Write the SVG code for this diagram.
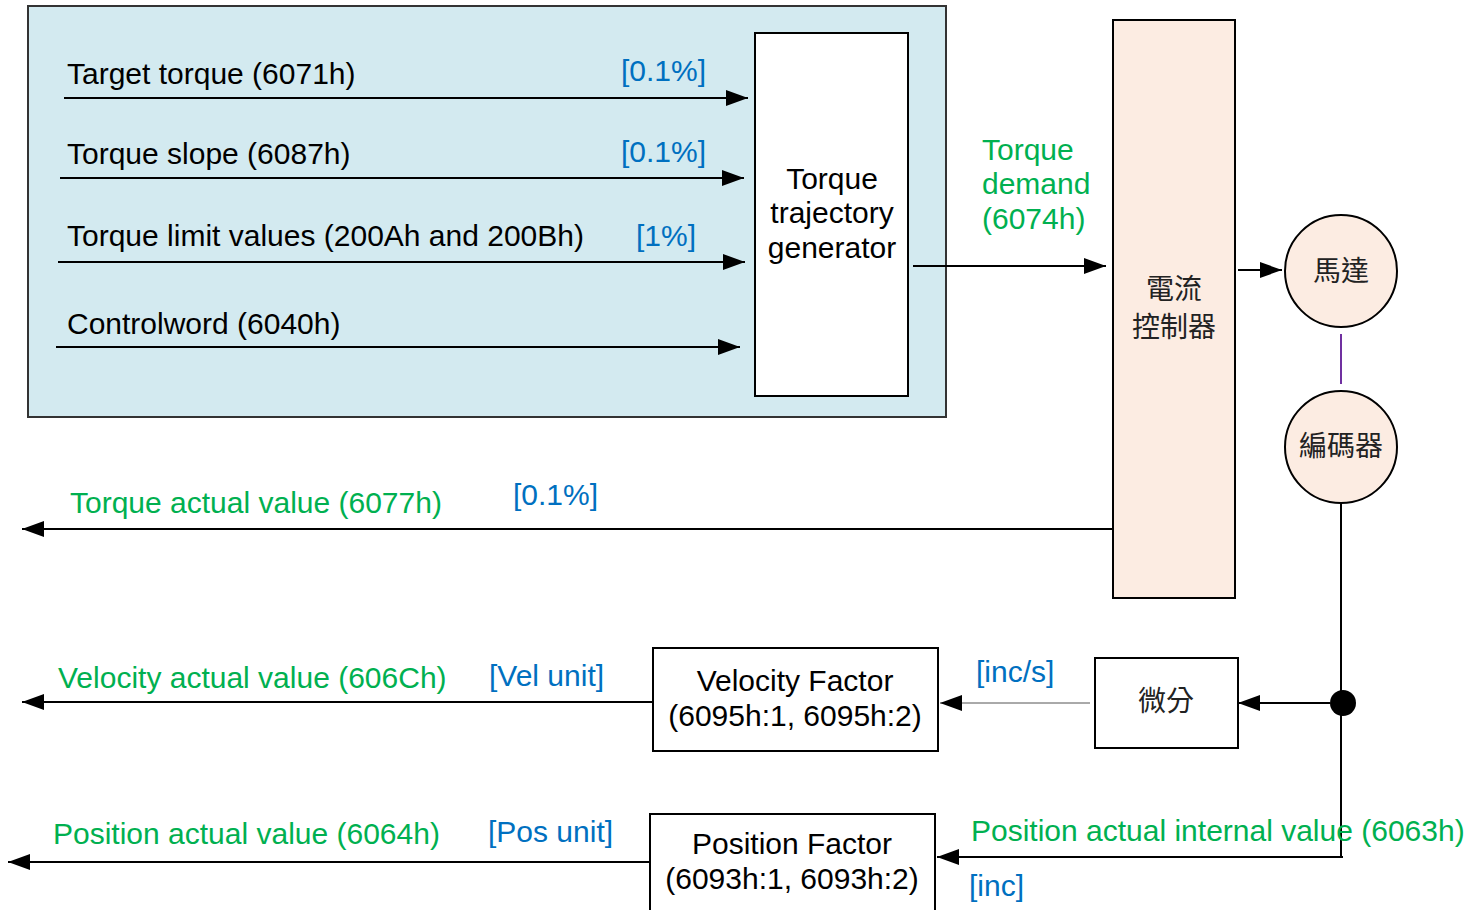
<svg xmlns="http://www.w3.org/2000/svg" width="1470" height="910" viewBox="0 0 1470 910">
<style>
text{font-family:"Liberation Sans",Arial,"Noto Sans CJK TC",sans-serif;font-size:30px}
.k{fill:#000}
.g{fill:#00b050}
.b{fill:#0070c0}
.cjk{font-family:"Noto Sans CJK TC","Noto Sans CJK SC",sans-serif;font-size:28px;fill:#222}
.ln{stroke:#000;stroke-width:2;fill:none}
.box{fill:#fff;stroke:#000;stroke-width:2}
.peach{fill:#fcece2;stroke:#000;stroke-width:2}
.c{text-anchor:middle}
</style>
<defs>
<marker id="ah" markerUnits="userSpaceOnUse" markerWidth="24" markerHeight="18" refX="22" refY="8" orient="auto">
<path d="M0,0 L22,8 L0,16 Z" fill="#000"/>
</marker>
</defs>
<rect width="1470" height="910" fill="#fff"/>
<g id="panel">
<rect x="28" y="6" width="918" height="411" fill="#d3eaf0" stroke="#333" stroke-width="2"/>
</g>
<g id="ttg">
<rect class="box" x="755" y="33" width="153" height="363"/>
<text class="k c" x="832" y="189">Torque</text>
<text class="k c" x="832" y="223">trajectory</text>
<text class="k c" x="832" y="258">generator</text>
</g>
<g id="current">
<rect class="peach" x="1113" y="20" width="122" height="578"/>
<text class="cjk c" x="1174" y="299">電流</text>
<text class="cjk c" x="1174" y="337">控制器</text>
</g>
<g id="motor">
<circle class="peach" cx="1341" cy="271" r="56"/>
<text class="cjk c" x="1341" y="281">馬達</text>
</g>
<g id="encoder">
<circle class="peach" cx="1341" cy="447" r="56"/>
<text class="cjk c" x="1341" y="456">編碼器</text>
</g>
<g id="diff">
<rect class="box" x="1095" y="658" width="143" height="90"/>
<text class="cjk c" x="1166" y="711">微分</text>
</g>
<g id="velfactor">
<rect class="box" x="653" y="648" width="285" height="103"/>
<text class="k c" x="795" y="691">Velocity Factor</text>
<text class="k c" x="795" y="726">(6095h:1, 6095h:2)</text>
</g>
<g id="posfactor">
<rect class="box" x="650" y="814" width="285" height="104"/>
<text class="k c" x="792" y="854">Position Factor</text>
<text class="k c" x="792" y="889">(6093h:1, 6093h:2)</text>
</g>
<g id="connectors">
<line class="ln" x1="64" y1="98" x2="748" y2="98" marker-end="url(#ah)"/>
<line class="ln" x1="60" y1="178" x2="744" y2="178" marker-end="url(#ah)"/>
<line class="ln" x1="58" y1="262" x2="745" y2="262" marker-end="url(#ah)"/>
<line class="ln" x1="56" y1="347" x2="740" y2="347" marker-end="url(#ah)"/>
<line class="ln" x1="913" y1="266" x2="1106" y2="266" stroke-width="1.5" marker-end="url(#ah)"/>
<line class="ln" x1="1238" y1="270" x2="1282" y2="270" marker-end="url(#ah)"/>
<line x1="1341" y1="334" x2="1341" y2="384" stroke="#7030a0" stroke-width="2"/>
<line class="ln" x1="1341" y1="503" x2="1341" y2="857"/>
<line class="ln" x1="1113" y1="529" x2="22" y2="529" marker-end="url(#ah)"/>
<line class="ln" x1="1330" y1="703" x2="1238" y2="703" marker-end="url(#ah)"/>
<line x1="1090" y1="703" x2="940" y2="703" stroke="#555" stroke-width="1" marker-end="url(#ah)"/>
<line class="ln" x1="653" y1="702" x2="22" y2="702" marker-end="url(#ah)"/>
<line class="ln" x1="1343" y1="857" x2="937" y2="857" marker-end="url(#ah)"/>
<line class="ln" x1="650" y1="862" x2="8" y2="862" marker-end="url(#ah)"/>
<ellipse cx="1343" cy="703" rx="13" ry="13" fill="#000"/>
</g>
<g id="labels">
<text class="k" x="67" y="84">Target torque (6071h)</text>
<text class="b" x="621" y="81">[0.1%]</text>
<text class="k" x="67" y="164">Torque slope (6087h)</text>
<text class="b" x="621" y="162">[0.1%]</text>
<text class="k" x="67" y="246">Torque limit values (200Ah and 200Bh)</text>
<text class="b" x="636" y="246">[1%]</text>
<text class="k" x="67" y="334">Controlword (6040h)</text>
<text class="g" x="982" y="160">Torque</text>
<text class="g" x="982" y="194">demand</text>
<text class="g" x="982" y="229">(6074h)</text>
<text class="g" x="70" y="513">Torque actual value (6077h)</text>
<text class="b" x="513" y="505">[0.1%]</text>
<text class="g" x="58" y="688">Velocity actual value (606Ch)</text>
<text class="b" x="489" y="686">[Vel unit]</text>
<text class="b" x="976" y="682">[inc/s]</text>
<text class="g" x="53" y="844">Position actual value (6064h)</text>
<text class="b" x="488" y="842">[Pos unit]</text>
<text class="g" x="971" y="841">Position actual internal value (6063h)</text>
<text class="b" x="969" y="896">[inc]</text>
</g>
</svg>
